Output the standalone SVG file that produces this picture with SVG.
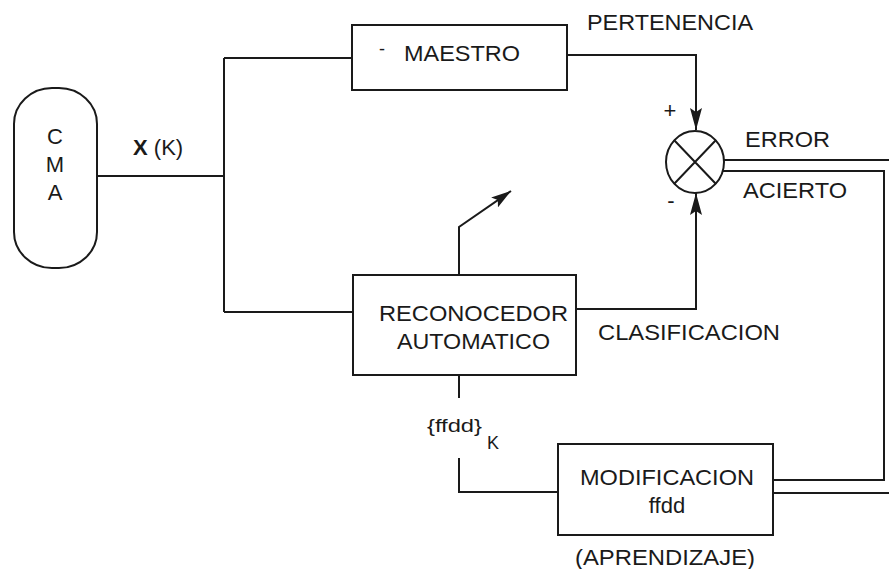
<svg xmlns="http://www.w3.org/2000/svg" width="889" height="569" viewBox="0 0 889 569">
<style>
.ln{fill:none;stroke:#1a1a1a;stroke-width:2}
.bx{fill:#fff;stroke:#1a1a1a;stroke-width:2}
.t{font-family:"Liberation Sans",Arial,sans-serif;font-size:22px;fill:#1a1a1a}
.s{font-family:"Liberation Sans",Arial,sans-serif;font-size:18px;fill:#1a1a1a}
</style>
<defs>
<marker id="ah" viewBox="0 0 22 12" refX="22" refY="6" markerWidth="22" markerHeight="12" orient="auto" markerUnits="userSpaceOnUse">
<path d="M0,0 L22,6 L0,12 L4,6 Z" fill="#1a1a1a"/>
</marker>
<marker id="ah2" viewBox="0 0 20 12" refX="20" refY="6" markerWidth="20" markerHeight="12" orient="auto" markerUnits="userSpaceOnUse">
<path d="M0,0 L20,6 L0,12 L4,6 Z" fill="#1a1a1a"/>
</marker>
</defs>
<rect width="889" height="569" fill="#fff"/>
<g id="connectors">
<path class="ln" d="M97,176 H224"/>
<path class="ln" d="M224,58 V312"/>
<path class="ln" d="M224,58 H352"/>
<path class="ln" d="M224,312 H353"/>
<path class="ln" d="M567,55 H696 V130" marker-end="url(#ah)"/>
<path class="ln" d="M576,309 H696 V193" marker-end="url(#ah)"/>
<path class="ln" d="M724,160 H889"/>
<path class="ln" d="M722,171 H884 V480 H773"/>
<path class="ln" d="M773,493 H889"/>
<path class="ln" d="M459,275 V227 L511,191" marker-end="url(#ah2)"/>
<path class="ln" d="M459,375 V398"/>
<path class="ln" d="M459,458 V492 H558"/>
</g>
<g id="cma">
<rect class="bx" x="14" y="88" width="83" height="180" rx="38" ry="36"/>
<text class="t" x="55" y="144" text-anchor="middle">C</text>
<text class="t" x="55" y="172" text-anchor="middle">M</text>
<text class="t" x="55" y="200" text-anchor="middle">A</text>
</g>
<g id="xk">
<text class="t" x="133" y="155"><tspan font-weight="bold">X</tspan> (K)</text>
</g>
<g id="maestro">
<rect class="bx" x="352" y="25" width="215" height="65"/>
<text class="s" x="379" y="55">-</text>
<text class="t" x="404" y="61" textLength="116" lengthAdjust="spacingAndGlyphs">MAESTRO</text>
</g>
<g id="pertenencia">
<text class="t" x="587" y="30" textLength="166" lengthAdjust="spacingAndGlyphs">PERTENENCIA</text>
</g>
<g id="sumador">
<ellipse class="bx" cx="695" cy="162" rx="29" ry="31"/>
<path class="ln" d="M674,140 L716,184 M716,140 L674,184"/>
<text class="t" x="670" y="118" text-anchor="middle">+</text>
<text class="t" x="671" y="208" text-anchor="middle">-</text>
</g>
<g id="labels">
<text class="t" x="745" y="147" textLength="85" lengthAdjust="spacingAndGlyphs">ERROR</text>
<text class="t" x="743" y="198" textLength="104" lengthAdjust="spacingAndGlyphs">ACIERTO</text>
<text class="t" x="598" y="340" textLength="182" lengthAdjust="spacingAndGlyphs">CLASIFICACION</text>
<text class="s" x="427" y="432" textLength="55" lengthAdjust="spacingAndGlyphs">{ffdd}</text>
<text class="s" x="487" y="449">K</text>
<text class="t" x="575" y="565" textLength="180" lengthAdjust="spacingAndGlyphs">(APRENDIZAJE)</text>
</g>
<g id="reconocedor">
<rect class="bx" x="353" y="275" width="223" height="100"/>
<text class="t" x="379" y="321" textLength="189" lengthAdjust="spacingAndGlyphs">RECONOCEDOR</text>
<text class="t" x="397" y="349" textLength="153" lengthAdjust="spacingAndGlyphs">AUTOMATICO</text>
</g>
<g id="modificacion">
<rect class="bx" x="558" y="444" width="215" height="91"/>
<text class="t" x="580" y="485" textLength="174" lengthAdjust="spacingAndGlyphs">MODIFICACION</text>
<text class="t" x="667" y="513" text-anchor="middle">ffdd</text>
</g>
</svg>
